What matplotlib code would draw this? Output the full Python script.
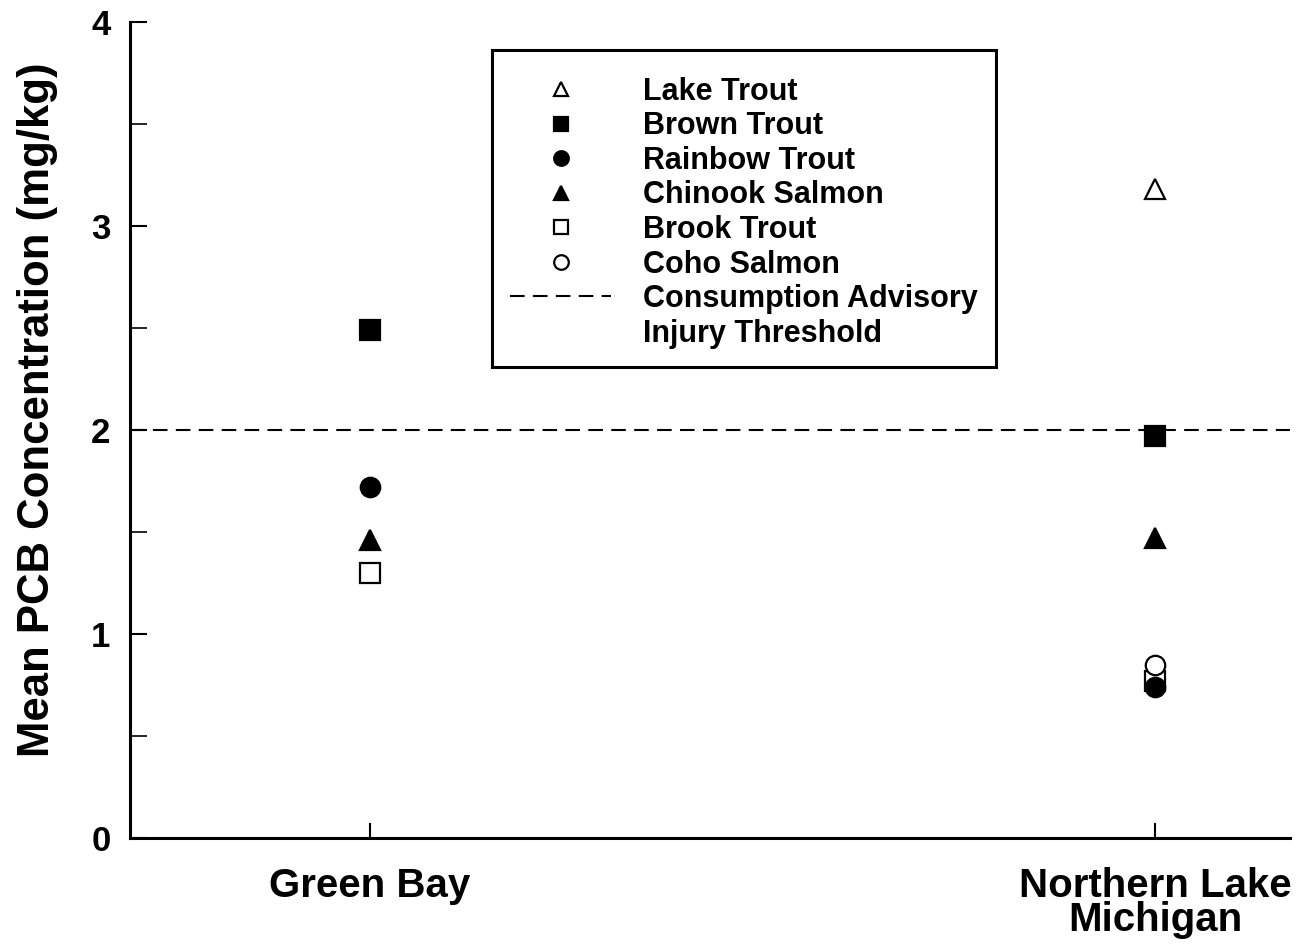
import numpy as np
import matplotlib
matplotlib.use("Agg")
import matplotlib.pyplot as plt
from matplotlib.lines import Line2D
from matplotlib.ticker import MultipleLocator

plt.rcParams['font.family'] = ['Liberation Sans', 'DejaVu Sans']
plt.rcParams['font.weight'] = 'bold'

locations = ["Green Bay", "Northern Lake\nMichigan"]
species = ["Lake Trout", "Brown Trout", "Rainbow Trout", "Chinook Salmon", "Brook Trout", "Coho Salmon"]
lake_trout = [np.nan, 3.18]
brown_trout = [2.49, 1.97]
rainbow_trout = [1.72, 0.74]
chinook_salmon = [1.46, 1.47]
brook_trout = [1.30, 0.77]
coho_salmon = [np.nan, 0.85]
advisory_level = 2.0

values = [lake_trout, brown_trout, rainbow_trout, chinook_salmon, brook_trout, coho_salmon]
markers = ['^', 's', 'o', '^', 's', 'o']
fills = ['white', 'black', 'black', 'black', 'white', 'white']
zorders = [5, 5, 6, 5, 4, 5]

fig = plt.figure(figsize=(12.99, 9.44), dpi=100)
ax = fig.add_axes([0.100, 0.1123, 0.893, 0.8644])

x = np.arange(len(locations))
handles = []
for name, vals, m, fc, z in zip(species, values, markers, fills, zorders):
    h, = ax.plot(x, vals, linestyle='none', marker=m, markersize=14,
                 markerfacecolor=fc, markeredgecolor='black', markeredgewidth=1.6,
                 color='black', label=name, zorder=z)
    handles.append(h)

ax.axhline(advisory_level, color='black', linewidth=1.5, dashes=(7, 4), zorder=3)
handles.append(Line2D([], [], color='black', linewidth=1.5, dashes=(7, 4)))
handles.append(Line2D([], [], linestyle='none', marker=None))
labels = species + ['Consumption Advisory', 'Injury Threshold']

ax.set_xlim(-0.306, 1.172)
ax.set_ylim(0, 4)
ax.set_xticks(x)
ax.set_xticklabels(locations, fontsize=29, fontweight='bold', linespacing=0.85)
ax.yaxis.set_major_locator(MultipleLocator(1))
ax.yaxis.set_minor_locator(MultipleLocator(0.5))
ax.tick_params(axis='y', which='major', direction='in', length=12, width=1.5,
               labelsize=25, pad=14)
ax.tick_params(axis='y', which='minor', direction='in', length=12, width=1.2)
ax.tick_params(axis='x', which='major', direction='in', length=11, width=1.5, pad=21)
for lbl in ax.get_yticklabels():
    lbl.set_fontweight('bold')

ax.spines['top'].set_visible(False)
ax.spines['right'].set_visible(False)
ax.spines['left'].set_linewidth(2.2)
ax.spines['bottom'].set_linewidth(2.2)

ax.set_ylabel("Mean PCB Concentration (mg/kg)", fontsize=31.5, fontweight='bold')
ax.yaxis.set_label_coords(-0.062, 0.525)

leg = ax.legend(handles, labels, loc='upper left', bbox_to_anchor=(0.312, 0.966),
                borderaxespad=0, frameon=True, fancybox=False, framealpha=1,
                edgecolor='black', handlelength=3.3, handletextpad=1.05,
                labelspacing=0.15, markerscale=0.75, borderpad=0.6,
                title=' ', title_fontsize=2,
                prop={'weight': 'bold', 'size': 22})
leg.get_frame().set_linewidth(2.2)

fig.savefig("out.png", dpi=100)
